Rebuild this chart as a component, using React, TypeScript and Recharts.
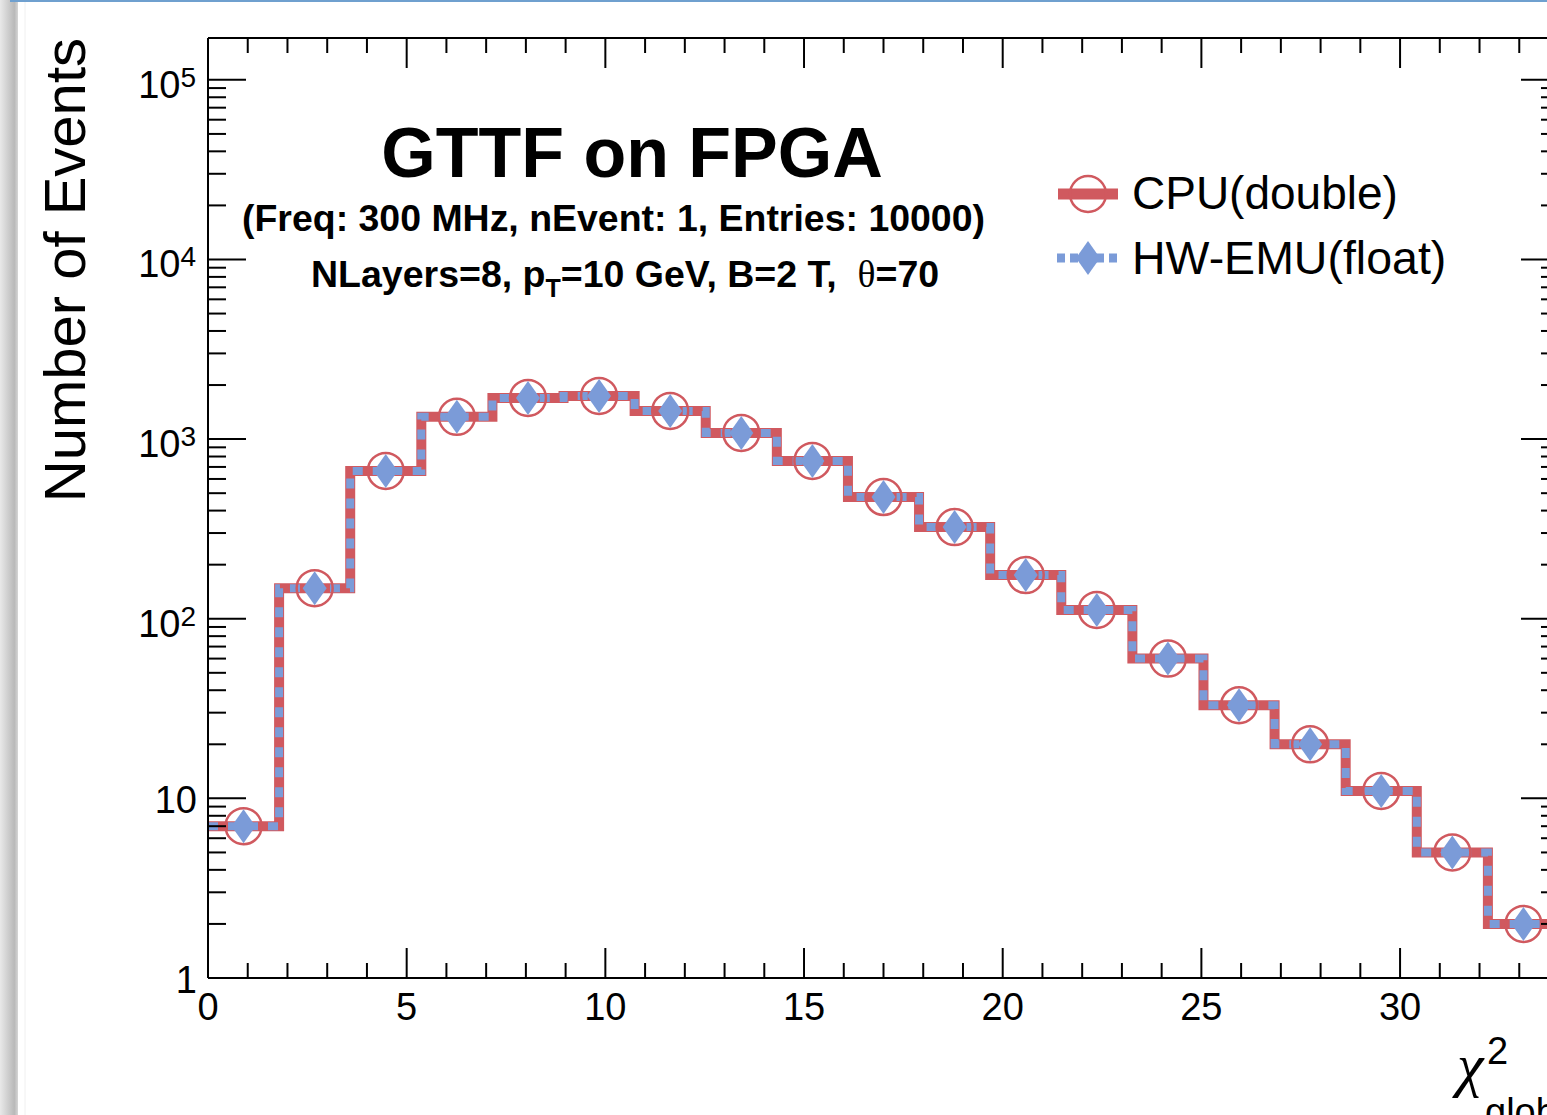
import { ComposedChart, Line, Scatter, XAxis, YAxis } from "recharts";

// histogram: 19 bins over [0, 34]
const X_MIN = 0;
const X_MAX = 34;
const N_BINS = 19;
const Y_MIN = 1;
const Y_MAX = 171000;

const CPU_COUNTS = [7, 148, 665, 1330, 1695, 1740, 1435, 1083, 756, 476, 324, 175, 112, 60, 33, 20, 11, 5, 2];
const EMU_COUNTS = [7, 148, 665, 1330, 1695, 1740, 1435, 1083, 756, 476, 324, 175, 112, 60, 33, 20, 11, 5, 2];

const X_MAJOR = [0, 5, 10, 15, 20, 25, 30];
const X_MINOR = [1, 2, 3, 4, 6, 7, 8, 9, 11, 12, 13, 14, 16, 17, 18, 19, 21, 22, 23, 24, 26, 27, 28, 29, 31, 32, 33];
const Y_MAJOR = [1, 10, 100, 1000, 10000, 100000];
const Y_MINOR_STEPS = [2, 3, 4, 5, 6, 7, 8, 9];

const RED = "#d0595f";
const BLUE = "#7b9bd8";
const SANS = "'Liberation Sans', Arial, Helvetica, sans-serif";
const SERIF = "'Liberation Serif', 'Times New Roman', serif";

const binWidth = (X_MAX - X_MIN) / N_BINS;

// stepAfter needs the low edge of every bin plus the upper edge of the last one
const toSteps = (counts: number[]) =>
  counts
    .map((v, i) => ({ x: X_MIN + i * binWidth, y: v }))
    .concat([{ x: X_MAX, y: counts[counts.length - 1] }]);

const toCenters = (counts: number[]) =>
  counts.map((v, i) => ({ x: X_MIN + (i + 0.5) * binWidth, y: v }));

const cpuSteps = toSteps(CPU_COUNTS);
const emuSteps = toSteps(EMU_COUNTS);
const cpuPoints = toCenters(CPU_COUNTS);
const emuPoints = toCenters(EMU_COUNTS);

const xTicks = [...X_MAJOR, ...X_MINOR].sort((a, b) => a - b);
const yTicks = Y_MAJOR.flatMap((m) => [m, ...Y_MINOR_STEPS.map((s) => s * m)]).filter((v) => v <= Y_MAX);

const XTick = ({ x, y, payload, side }: any) => {
  const major = X_MAJOR.includes(payload.value);
  const len = major ? 30 : 15;
  const dir = side === "bottom" ? -1 : 1;
  return (
    <g>
      <line x1={x} y1={y} x2={x} y2={y + dir * len} stroke="#000" strokeWidth={2} />
      {major && side === "bottom" && (
        <text x={x} y={y + 42} textAnchor="middle" fontSize={38} fontFamily={SANS} fill="#000">
          {payload.value}
        </text>
      )}
    </g>
  );
};

const YTick = ({ x, y, payload, side }: any) => {
  const v = payload.value;
  const major = Y_MAJOR.includes(v);
  const len = major ? 38 : 18;
  const dir = side === "left" ? 1 : -1;
  const exp = Math.round(Math.log10(v));
  return (
    <g>
      <line x1={x} y1={y} x2={x + dir * len} y2={y} stroke="#000" strokeWidth={2} />
      {major && side === "left" && (
        exp < 2 ? (
          <text x={x - 11} y={y + 15} textAnchor="end" fontSize={38} fontFamily={SANS} fill="#000">
            {v}
          </text>
        ) : (
          <text x={x - 12} y={y + 18} textAnchor="end" fontSize={38} fontFamily={SANS} fill="#000">
            10
            <tspan dy={-11} fontSize={28}>{exp}</tspan>
          </text>
        )
      )}
    </g>
  );
};

const Circle = ({ cx, cy }: any) => (
  <circle cx={cx} cy={cy} r={18} fill="none" stroke={RED} strokeWidth={2.5} />
);

const Diamond = ({ cx, cy }: any) => (
  <path d={`M${cx},${cy - 17} L${cx + 12},${cy} L${cx},${cy + 17} L${cx - 12},${cy} Z`} fill={BLUE} />
);

const axisLine = { stroke: "#000", strokeWidth: 2 };

export default function App() {
  return (
    <div style={{ position: "fixed", left: 0, top: 0, width: 1547, height: 1115, overflow: "hidden", background: "#fff" }}>
      {/* axes are 1px thick, so the frame ends up at left 208, top 38, right 1559, bottom 978 */}
      <ComposedChart width={1600} height={1115} margin={{ top: 37, right: 40, bottom: 136, left: 207 }}>
        <XAxis
          dataKey="x"
          type="number"
          domain={[X_MIN, X_MAX]}
          allowDataOverflow
          ticks={xTicks}
          interval={0}
          height={1}
          tickSize={0}
          tickMargin={0}
          tickLine={false}
          axisLine={axisLine}
          tick={(p: any) => <XTick {...p} side="bottom" />}
        />
        <XAxis
          xAxisId="top"
          orientation="top"
          dataKey="x"
          type="number"
          domain={[X_MIN, X_MAX]}
          allowDataOverflow
          ticks={xTicks}
          interval={0}
          height={1}
          tickSize={0}
          tickMargin={0}
          tickLine={false}
          axisLine={axisLine}
          tick={(p: any) => <XTick {...p} side="top" />}
        />
        <YAxis
          dataKey="y"
          type="number"
          scale="log"
          domain={[Y_MIN, Y_MAX]}
          allowDataOverflow
          ticks={yTicks}
          interval={0}
          width={1}
          tickSize={0}
          tickMargin={0}
          tickLine={false}
          axisLine={axisLine}
          tick={(p: any) => <YTick {...p} side="left" />}
        />
        <YAxis
          yAxisId="right"
          orientation="right"
          dataKey="y"
          type="number"
          scale="log"
          domain={[Y_MIN, Y_MAX]}
          allowDataOverflow
          ticks={yTicks}
          interval={0}
          width={1}
          tickSize={0}
          tickMargin={0}
          tickLine={false}
          axisLine={axisLine}
          tick={(p: any) => <YTick {...p} side="right" />}
        />
        {/* invisible series so the mirrored axes have something attached */}
        <Line xAxisId="top" yAxisId="right" data={cpuSteps} dataKey="y" stroke="none" dot={false} activeDot={false} isAnimationActive={false} />
        <Line
          data={cpuSteps}
          dataKey="y"
          type="stepAfter"
          stroke={RED}
          strokeWidth={10}
          strokeLinecap="butt"
          strokeLinejoin="miter"
          dot={false}
          activeDot={false}
          isAnimationActive={false}
        />
        <Line
          data={emuSteps}
          dataKey="y"
          type="stepAfter"
          stroke={BLUE}
          strokeWidth={8}
          strokeDasharray="10 10"
          strokeLinecap="butt"
          strokeLinejoin="miter"
          dot={false}
          activeDot={false}
          isAnimationActive={false}
        />
        <Scatter data={cpuPoints} shape={Circle} isAnimationActive={false} />
        <Scatter data={emuPoints} shape={Diamond} isAnimationActive={false} />
      </ComposedChart>

      <svg width={1547} height={1115} style={{ position: "absolute", left: 0, top: 0, pointerEvents: "none" }}>
        <defs>
          <linearGradient id="strip" x1="0" x2="1" y1="0" y2="0">
            <stop offset="0" stopColor="#e9e9e9" />
            <stop offset="0.8" stopColor="#b9b9b9" />
            <stop offset="1" stopColor="#d6d6d6" />
          </linearGradient>
        </defs>
        <rect x={0} y={0} width={18} height={1115} fill="url(#strip)" />
        <line x1={25} y1={0} x2={25} y2={1115} stroke="#f0f0f0" strokeWidth={1} />
        <rect x={10} y={0} width={1537} height={2} fill="#6fa0cf" />

        {/* y title */}
        <text x={85} y={38} transform="rotate(-90 85 38)" textAnchor="end" fontSize={58} fontFamily={SANS} fill="#000">
          Number of Events
        </text>

        {/* titles */}
        <text x={632} y={177} textAnchor="middle" fontSize={70} fontWeight="bold" fontFamily={SANS} fill="#000">
          GTTF on FPGA
        </text>
        <text x={242} y={231} textLength={743} lengthAdjust="spacingAndGlyphs" fontSize={37} fontWeight="bold" fontFamily={SANS} fill="#000">
          (Freq: 300 MHz, nEvent: 1, Entries: 10000)
        </text>
        <text x={311} y={287} fontSize={37.5} fontWeight="bold" fontFamily={SANS} fill="#000">
          NLayers=8, p
          <tspan dy={10} fontSize={25}>T</tspan>
          <tspan dy={-10}>{"=10 GeV, B=2 T,\u00a0\u00a0"}</tspan>
          <tspan fontFamily={SERIF} fontWeight="normal">θ</tspan>
          <tspan>=70</tspan>
        </text>

        {/* legend */}
        <line x1={1058} y1={194} x2={1118} y2={194} stroke={RED} strokeWidth={11} />
        <circle cx={1088} cy={194} r={18} fill="none" stroke={RED} strokeWidth={2.5} />
        <text x={1132} y={209} fontSize={46} fontFamily={SANS} fill="#000">CPU(double)</text>
        <line x1={1057} y1={258} x2={1119} y2={258} stroke={BLUE} strokeWidth={9} strokeDasharray="8 5" />
        <path d="M1088,241 L1100,258 L1088,275 L1076,258 Z" fill={BLUE} />
        <text x={1132} y={274} fontSize={46.5} fontFamily={SANS} fill="#000">HW-EMU(float)</text>

        {/* x title */}
        <text x={1457} y={1085} fontSize={60} fontStyle="italic" fontFamily={SERIF} fill="#000">χ</text>
        <text x={1487} y={1064} fontSize={38} fontFamily={SANS} fill="#000">2</text>
        <text x={1485} y={1125} fontSize={38} fontFamily={SANS} fill="#000">global</text>
      </svg>
    </div>
  );
}
